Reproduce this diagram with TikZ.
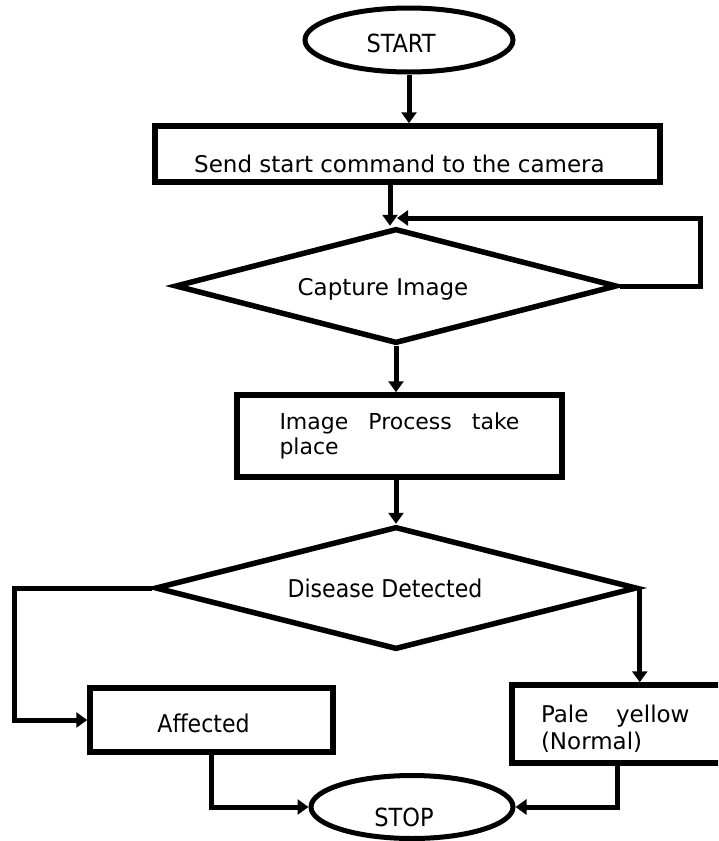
\documentclass[tikz,border=0pt]{standalone}
\usepackage{fontspec}
\setmainfont{DejaVu Sans}
\newfontfamily\condfont{DejaVu Sans Condensed}
\usetikzlibrary{shapes.geometric,arrows.meta}
\newcommand\mvtext[3]{\hspace*{#1}\raisebox{#2}[\height][\depth]{#3}\hspace*{-#1}}
\begin{document}
\begin{tikzpicture}[x=1pt,y=-1pt,
  box/.style={draw, line width=5.5pt, rectangle, inner sep=0pt},
  oval/.style={draw, line width=5pt, ellipse, inner sep=0pt, font=\condfont\fontsize{25}{28}\selectfont},
  dia/.style={draw, line width=5.5pt, diamond, inner sep=0pt},
  reg/.style={font=\fontsize{23}{27}\selectfont},
  cond/.style={font=\condfont\fontsize{24.5}{28}\selectfont},
  conn/.style={line width=5pt, -{Triangle[length=11pt,width=15pt]}}
]
\useasboundingbox (0,0) rectangle (718,841);
\clip (0,0) rectangle (718,841);

\node[oval, minimum width=208pt, minimum height=64pt] (start) at (409,40) {\mvtext{-8pt}{-3pt}{START}};
\node[box, reg, minimum width=505pt, minimum height=56pt] (send) at (407.5,154) {\mvtext{-8pt}{-10pt}{Send start command to the camera}};
\node[dia, reg, minimum width=442pt, minimum height=115pt, aspect=3.8] (cap) at (396,286) {\mvtext{-13pt}{-3pt}{Capture Image}};
\node[box, font=\fontsize{22}{25}\selectfont, minimum width=325pt, minimum height=82pt, text width=240pt, align=left] (proc) at (399.5,436) {Image\hfill Process\hfill take\\place};
\node[dia, cond, minimum width=482pt, minimum height=123pt, aspect=3.9] (dis) at (396,588) {\mvtext{-11pt}{0pt}{Disease Detected}};
\node[box, cond, minimum width=243pt, minimum height=64pt] (aff) at (211.5,720) {\mvtext{-8pt}{-3pt}{Affected}};
\node[box, reg, minimum width=248pt, minimum height=78pt, text width=190pt, text depth=20pt, align=left] (pale) at (636,724) {Pale\hspace{20pt} yellow\\(Normal)};
\node[oval, minimum width=202pt, minimum height=63pt] (stop) at (412,807) {\mvtext{-8pt}{-10pt}{STOP}};

\coordinate (loopend) at (397,218);
\draw[conn] (start.south) -- (start.south |- send.north);
\draw[conn] ([xshift=-6pt]send.south -| cap.north) -- ([xshift=-6pt]cap.north);
\draw[conn] (cap.east) -- ++(81,0) |- (loopend);
\draw[conn] (cap.south) -- (cap.south |- proc.north);
\draw[conn] (proc.south -| dis.north) -- (dis.north);
\draw[conn] (dis.west) -- ++(-138,0) |- (aff.west);
\draw[conn] (dis.east) -- (dis.east |- pale.north);
\draw[conn] (aff.south) |- (stop.west);
\draw[conn] ([xshift=-19pt]pale.south) |- (stop.east);
\end{tikzpicture}
\end{document}
